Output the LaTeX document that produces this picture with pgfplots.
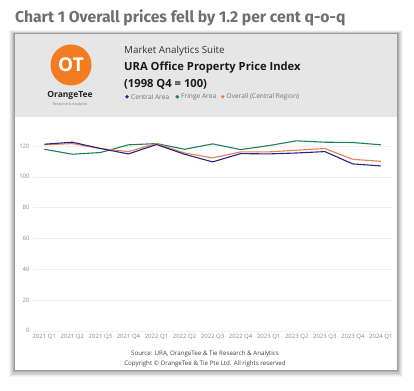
\documentclass[border=0pt]{standalone}
\usepackage{pgfplots}
\pgfplotsset{compat=1.18}
\usepackage{fontspec}
\setmainfont{Open Sans}
\newfontfamily\titlefont{Fira Sans}
\definecolor{central}{HTML}{22268C}
\definecolor{fringe}{HTML}{1E7F5C}
\definecolor{overall}{HTML}{E8804F}
\definecolor{otorange}{HTML}{F37B21}
\definecolor{headergray}{HTML}{E6E6E6}
\definecolor{titlegray}{HTML}{6F6F6F}
\definecolor{ticktext}{HTML}{8A8A8A}
\pgfplotstableread{
x central fringe overall
0 121.1 117.8 120.7
1 122.4 114.6 121.5
2 118.3 115.7 118.3
3 114.8 120.7 116.3
4 120.9 121.5 121.5
5 114.6 117.8 115.4
6 109.6 121.3 112.2
7 115.0 117.6 116.1
8 114.8 120.2 116.1
9 115.4 123.3 117.2
10 116.3 122.4 118.3
11 108.3 122.2 111.3
12 107.0 120.7 110.0
}\datatable
\begin{document}
\begin{tikzpicture}[x=1pt,y=1pt]
\fill[white] (0,0) rectangle (414,-390);
% title
\node[anchor=west,inner sep=0,text=titlegray,font=\titlefont\bfseries\fontsize{15.7}{16}\selectfont] at (15,-18) {Chart 1 Overall prices fell by 1.2 per cent q-o-q};
% shadow
\foreach \d/\o in {6/0.04,5/0.05,4/0.06,3/0.08,2/0.10,1/0.13}{
  \fill[black,opacity=\o] (15-\d,-34+\d*0.6) rectangle (397+\d,-370-\d*1.2);
}
\fill[white] (15,-34) rectangle (397,-370);
\fill[headergray] (15,-34) rectangle (397,-117);
% logo
\fill[otorange] (71,-65) circle (20.5);
\node[text=white,font=\bfseries\fontsize{19}{19}\selectfont,inner sep=0] at (71,-65) {OT};
\node[inner sep=0,font=\bfseries\fontsize{8.5}{9}\selectfont,text=black!85] at (70,-95) {OrangeTee};
\node[inner sep=0,font=\fontsize{3.6}{4}\selectfont,text=gray] at (70,-104.5) {Research \& Analytics};
% header text
\node[anchor=west,inner sep=0,font=\fontsize{9.8}{10}\selectfont,text=black!80] at (124,-51) {Market Analytics Suite};
\node[anchor=west,inner sep=0,font=\bfseries\fontsize{11.2}{12}\selectfont,text=black!90] at (124,-68) {URA Office Property Price Index};
\node[anchor=west,inner sep=0,font=\bfseries\fontsize{11.2}{12}\selectfont,text=black!90] at (124,-84) {(1998 Q4 = 100)};
% legend
\fill[central] (127,-96.8) circle (1.9);
\node[anchor=west,inner sep=0,font=\fontsize{6.6}{7}\selectfont,text=black!55] at (131,-96.8) {Central Area};
\fill[fringe] (177.3,-96.8) circle (1.9);
\node[anchor=west,inner sep=0,font=\fontsize{6.6}{7}\selectfont,text=black!55] at (181,-96.8) {Fringe Area};
\fill[overall] (222.7,-96.8) circle (1.9);
\node[anchor=west,inner sep=0,font=\fontsize{6.6}{7}\selectfont,text=black!55] at (226.5,-96.8) {Overall (Central Region)};
% source
\node[inner sep=0,font=\fontsize{6.2}{7}\selectfont,text=black!75] at (205,-354) {Source: URA, OrangeTee \& Tie Research \& Analytics};
\node[inner sep=0,font=\fontsize{6.2}{7}\selectfont,text=black!75] at (205,-363.5) {Copyright © OrangeTee \& Tie Pte Ltd. All rights reserved};
\begin{axis}[at={(33.1pt,-330.7pt)}, anchor=south west, scale only axis,
  width=359pt, height=200.2pt,
  xmin=-0.4, xmax=12.4, ymin=0, ymax=130,
  axis line style={draw=none},
  ytick={0,20,...,120}, xtick={0,...,12},
  xticklabels={2021 Q1,2021 Q2,2021 Q3,2021 Q4,2022 Q1,2022 Q2,2022 Q3,2022 Q4,2023 Q1,2023 Q2,2023 Q3,2023 Q4,2024 Q1},
  ymajorgrids, grid style={black!6, line width=0.4pt},
  major tick length=0,
  tick label style={font=\fontsize{6}{7}\selectfont, text=ticktext},
  /pgf/number format/assume math mode=true,
  clip=false]
\addplot[fringe, line width=1.1pt] table[x=x,y=fringe] {\datatable};
\addplot[overall, line width=1.1pt] table[x=x,y=overall] {\datatable};
\addplot[central, line width=1.1pt] table[x=x,y=central] {\datatable};
\end{axis}
\end{tikzpicture}
\end{document}
